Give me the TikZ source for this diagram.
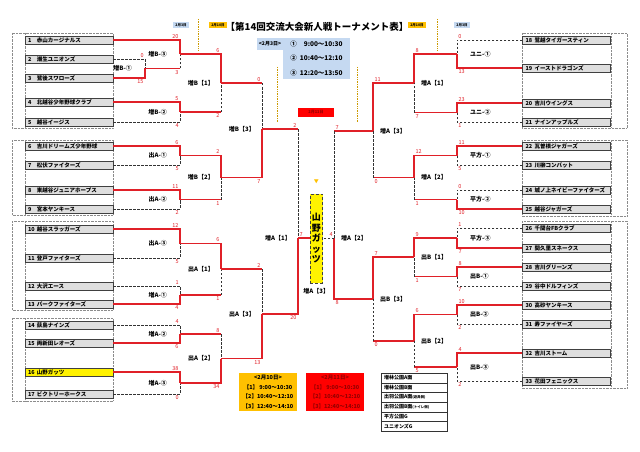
\documentclass[tikz,border=0pt]{standalone}
\usepackage{fontspec}
\setmainfont{Noto Sans CJK JP}
\usepackage{tikz}
\usetikzlibrary{positioning}
\definecolor{tred}{RGB}{224,32,40}
\definecolor{tgold}{RGB}{255,192,0}
\definecolor{tblue}{RGB}{197,217,241}
\definecolor{tdark}{RGB}{150,0,0}

\begin{document}
\begin{tikzpicture}[x=1pt, y=-1pt,
  team/.style={rectangle, draw=black!75, fill=black!13, minimum height=8pt,
    text width=82pt, inner xsep=3pt, inner ysep=0pt, align=left,
    font=\fontsize{5.5}{6}\selectfont\bfseries},
  grp/.style={draw=black!45, densely dotted},
  win/.style={draw=tred, line width=1.2pt},
  lose/.style={draw=black!80, dash pattern=on 2.5pt off 1.5pt, line width=0.8pt},
  sc/.style={font=\fontsize{5.5}{5.5}\selectfont, text=tred, inner sep=1pt},
  lbl/.style={font=\fontsize{6}{6.5}\selectfont\bfseries, inner sep=1pt},
  tag/.style={font=\fontsize{3.5}{4}\selectfont\bfseries, inner xsep=2pt, inner ysep=1.2pt},
  odot/.style={draw=tgold!80!black, densely dotted, line width=0.7pt},
  champ/.style={rectangle, draw=black!75, densely dashed, fill=yellow,
    minimum width=12.7pt, minimum height=88.4pt, inner sep=0pt, align=center,
    font=\fontsize{9}{10.5}\selectfont\bfseries},
  legend/.style={rectangle, minimum width=58pt, minimum height=38pt, inner sep=1pt,
    align=center, font=\fontsize{5.5}{9.5}\selectfont\bfseries},
  venue/.style={rectangle, draw=black!80, minimum width=66pt, minimum height=9.67pt,
    text width=60pt, inner xsep=3pt, inner ysep=0pt, align=left,
    font=\fontsize{5}{5.5}\selectfont\bfseries}
]
\useasboundingbox (0,0) rectangle (640,452);

\node[font=\fontsize{9.5}{10}\selectfont\bfseries] (title) at (317,27) {【第14回交流大会新人戦トーナメント表】};
\node[tag, fill=tblue] (dL3) at (181,25) {2月3日};
\node[tag, fill=tgold] (dL10) at (218,25) {2月10日};
\node[tag, fill=tgold] (dR10) at (417,25) {2月10日};
\node[tag, fill=tblue] (dR3) at (462,25) {2月3日};
\draw[odot] (198,19) -- (198,50);
\draw[odot] (437,19) -- (437,50);
\draw[odot] (277,67) -- (277,122);
\draw[odot] (357,67) -- (357,122);

\node[rectangle, fill=tblue, minimum width=67pt, minimum height=41pt, inner sep=2pt, align=left,
  font=\fontsize{6.5}{14.5}\selectfont\bfseries] (times) at (316.5,58.5)
  {①\ \ \phantom{1}9:00～10:30\\②\ \ 10:40～12:10\\③\ \ 12:20～13:50};
\node[rectangle, fill=tblue, anchor=north east, minimum height=12pt, inner sep=1.5pt,
  font=\fontsize{5}{5}\selectfont\bfseries] (d3) at (times.north west) {<2月3日>};

\foreach \ya/\yb in {33/128, 140/215, 221/310, 318/401} {
  \draw[grp] (12,\ya) rectangle (113,\yb);
  \draw[grp] (25,\ya) -- (25,\yb);
}
\foreach \ya/\yb in {33/128, 140/216, 221/388} {
  \draw[grp] (522,\ya) rectangle (627,\yb);
  \draw[grp] (611,\ya) -- (611,\yb);
}

\foreach \tno/\tyy/\tnm in {1/40/赤山カージナルス, 2/59/潮生ユニオンズ, 3/78/鷺後スワローズ,
    4/102/北越谷少年野球クラブ, 5/122/越谷イージス, 6/146/吉川ドリームズ少年野球,
    7/165/松伏ファイターズ, 8/190/東越谷ジュニアホープス, 9/209/宮本ヤンキース,
    10/229/越谷スラッガーズ, 11/258/登戸ファイターズ, 12/286/大沢エース,
    13/304/パークファイターズ, 14/325/荻島ナインズ, 15/343/両新田レオーズ,
    17/394/ビクトリーホークス}
  \node[team] (t\tno) at (69,\tyy) {\makebox[9pt][l]{\tno}\tnm};
\node[team, fill=yellow] (t16) at (69,372) {\makebox[9pt][l]{16}山野ガッツ};
\foreach \tno/\tyy/\tnm in {18/40/鷺越タイガースティン, 19/68/イーストドラゴンズ,
    20/103/吉川ウイングス, 21/122/ナインアップルズ, 22/146/瓦曽根ジャガーズ,
    23/165/川柳コンバット, 24/190/城ノ上ネイビーファイターズ, 25/209/越谷ジャガーズ,
    26/228/千間台FBクラブ, 27/248/間久里スネークス, 28/267/吉川グリーンズ,
    29/286/谷中ドルフィンズ, 30/305/高砂ヤンキース, 31/324/寿ファイヤーズ,
    32/353/吉川ストーム, 33/381/花田フェニックス}
  \node[team] (t\tno) at (566.5,\tyy) {\makebox[9pt][l]{\tno}\tnm};

\coordinate (jB1) at (145,68.5);
\coordinate (jB3) at (180,54);
\coordinate (jB2) at (180,112);
\coordinate (jBK1) at (221,83);
\coordinate (jA1o) at (180,155.5);
\coordinate (jA2o) at (180,199.5);
\coordinate (jBK2) at (221,177.5);
\coordinate (jBK3) at (262,129);
\coordinate (jA3o) at (180,243.5);
\coordinate (jA1z) at (180,295);
\coordinate (jAK1o) at (221,269);
\coordinate (jA2z) at (180,334);
\coordinate (jA3z) at (180,383);
\coordinate (jAK2o) at (221,358.5);
\coordinate (jAK3o) at (262,314);
\coordinate (jAK1z) at (298,238);
\coordinate (jU1) at (457,54);
\coordinate (jU2) at (457,112.5);
\coordinate (jAK1r) at (414,83);
\coordinate (jH1) at (457,155.5);
\coordinate (jH2) at (457,199.5);
\coordinate (jAK2r) at (414,177.5);
\coordinate (jAK3r) at (373,131);
\coordinate (jH3) at (457,238);
\coordinate (jB1r) at (457,276.5);
\coordinate (jBK1r) at (414,257);
\coordinate (jB2r) at (457,314.5);
\coordinate (jB3r) at (457,367);
\coordinate (jBK2r) at (414,341);
\coordinate (jBK3r) at (373,299);
\coordinate (jAK2z) at (334,238);

\draw[lose] (t2.east) -| node[sc, above left] (s2) {0} (jB1);
\draw[win] (t3.east) -| node[sc, below left] (s3) {15} (jB1);
\node[lbl, left=12pt of jB1] (lB1) {増B-①};
\draw[win] (t1.east) -| node[sc, above left] (s1) {20} (jB3);
\draw[win] (jB1) -- (jB1 -| jB3) node[sc, below left] (sB1) {3};
\draw[lose] (jB1 -| jB3) -- (jB3);
\node[lbl, left=12pt of jB3] (lB3) {増B-③};
\draw[win] (t4.east) -| node[sc, above left] (s4) {5} (jB2);
\draw[lose] (t5.east) -| node[sc, below left] (s5) {4} (jB2);
\node[lbl, left=12pt of jB2] (lB2) {増B-②};
\draw[win] (jB2) -- (jB2 -| jBK1) node[sc, below left] (sB2) {2};
\draw[lose] (jB2 -| jBK1) -- (jBK1);
\draw[win] (jB3) -| node[sc, above left] (sB3) {6} (jBK1);
\node[lbl, left=6pt of jBK1] (lBK1) {増B【1】};

\draw[win] (t6.east) -| node[sc, above left] (s6) {6} (jA1o);
\draw[lose] (t7.east) -| node[sc, below left] (s7) {5} (jA1o);
\node[lbl, left=12pt of jA1o] (lA1o) {出A-①};
\draw[win] (t8.east) -| node[sc, above left] (s8) {11} (jA2o);
\draw[lose] (t9.east) -| node[sc, below left] (s9) {2} (jA2o);
\node[lbl, left=12pt of jA2o] (lA2o) {出A-②};
\draw[win] (jA2o) -- (jA2o -| jBK2) node[sc, below left] (sA2o) {1};
\draw[lose] (jA2o -| jBK2) -- (jBK2);
\draw[win] (jA1o) -| node[sc, above left] (sA1o) {2} (jBK2);
\node[lbl, left=6pt of jBK2] (lBK2) {増B【2】};
\draw[win] (jBK1) -- (jBK1 -| jBK3) node[sc, above left] (sBK1) {0};
\draw[lose] (jBK1 -| jBK3) -- (jBK3);
\draw[win] (jBK2) -| node[sc, below left] (sBK2) {7} (jBK3);
\node[lbl, left=6pt of jBK3] (lBK3) {増B【3】};

\draw[win] (t10.east) -| node[sc, above left] (s10) {12} (jA3o);
\draw[lose] (t11.east) -| node[sc, below left] (s11) {5} (jA3o);
\node[lbl, left=12pt of jA3o] (lA3o) {出A-③};
\draw[lose] (t12.east) -| node[sc, above left] (s12) {1} (jA1z);
\draw[win] (t13.east) -| node[sc, below left] (s13) {4} (jA1z);
\node[lbl, left=12pt of jA1z] (lA1z) {増A-①};
\draw[win] (jA1z) -- (jA1z -| jAK1o) node[sc, below left] (sA1z) {1};
\draw[lose] (jA1z -| jAK1o) -- (jAK1o);
\draw[win] (jA3o) -| node[sc, above left] (sA3o) {6} (jAK1o);
\node[lbl, left=6pt of jAK1o] (lAK1o) {出A【1】};
\draw[lose] (t14.east) -| node[sc, above left] (s14) {4} (jA2z);
\draw[win] (t15.east) -| node[sc, below left] (s15) {6} (jA2z);
\node[lbl, left=12pt of jA2z] (lA2z) {増A-②};
\draw[lose] (t17.east) -| node[sc, below left] (s17) {0} (jA3z);
\draw[win] (t16.east) -| node[sc, above left] (s16) {38} (jA3z);
\node[lbl, left=12pt of jA3z] (lA3z) {増A-③};
\draw[win] (jA2z) -- (jA2z -| jAK2o) node[sc, above left] (sA2z) {8};
\draw[lose] (jA2z -| jAK2o) -- (jAK2o);
\draw[win] (jA3z) -| node[sc, below left] (sA3z) {34} (jAK2o);
\node[lbl, left=6pt of jAK2o] (lAK2o) {出A【2】};
\draw[win] (jAK1o) -- (jAK1o -| jAK3o) node[sc, above left] (sAK1o) {2};
\draw[lose] (jAK1o -| jAK3o) -- (jAK3o);
\draw[win] (jAK2o) -| node[sc, below left] (sAK2o) {13} (jAK3o);
\node[lbl, left=6pt of jAK3o] (lAK3o) {出A【3】};
\draw[win] (jBK3) -- (jBK3 -| jAK1z) node[sc, above left] (sBK3) {2};
\draw[lose] (jBK3 -| jAK1z) -- (jAK1z);
\draw[win] (jAK3o) -| node[sc, below left] (sAK3o) {20} (jAK1z);
\node[lbl, left=6pt of jAK1z] (lAK1z) {増A【1】};

\draw[lose] (t18.west) -| node[sc, above right] (s18) {0} (jU1);
\draw[win] (t19.west) -| node[sc, below right] (s19) {13} (jU1);
\node[lbl, right=12pt of jU1] (lU1) {ユニ-①};
\draw[win] (t20.west) -| node[sc, above right] (s20) {23} (jU2);
\draw[lose] (t21.west) -| node[sc, below right] (s21) {1} (jU2);
\node[lbl, right=12pt of jU2] (lU2) {ユニ-②};
\draw[win] (jU2) -- (jU2 -| jAK1r) node[sc, below right] (sU2) {7};
\draw[lose] (jU2 -| jAK1r) -- (jAK1r);
\draw[win] (jU1) -| node[sc, above right] (sU1) {8} (jAK1r);
\node[lbl, right=6pt of jAK1r] (lAK1r) {増A【1】};
\draw[win] (t22.west) -| node[sc, above right] (s22) {11} (jH1);
\draw[lose] (t23.west) -| node[sc, below right] (s23) {5} (jH1);
\node[lbl, right=12pt of jH1] (lH1) {平方-①};
\draw[lose] (t24.west) -| node[sc, above right] (s24) {0} (jH2);
\draw[win] (t25.west) -| node[sc, below right] (s25) {10} (jH2);
\node[lbl, right=12pt of jH2] (lH2) {平方-②};
\draw[win] (jH2) -- (jH2 -| jAK2r) node[sc, below right] (sH2) {1};
\draw[lose] (jH2 -| jAK2r) -- (jAK2r);
\draw[win] (jH1) -| node[sc, above right] (sH1) {12} (jAK2r);
\node[lbl, right=6pt of jAK2r] (lAK2r) {増A【2】};
\draw[win] (jAK2r) -- (jAK2r -| jAK3r) node[sc, below right] (sAK2r) {0};
\draw[lose] (jAK2r -| jAK3r) -- (jAK3r);
\draw[win] (jAK1r) -| node[sc, above right] (sAK1r) {11} (jAK3r);
\node[lbl, right=6pt of jAK3r] (lAK3r) {増A【3】};

\draw[lose] (t26.west) -| node[sc, above right] (s26) {1} (jH3);
\draw[win] (t27.west) -| node[sc, below right] (s27) {7} (jH3);
\node[lbl, right=12pt of jH3] (lH3) {平方-③};
\draw[win] (t28.west) -| node[sc, above right] (s28) {8} (jB1r);
\draw[lose] (t29.west) -| node[sc, below right] (s29) {7} (jB1r);
\node[lbl, right=12pt of jB1r] (lB1r) {出B-①};
\draw[win] (jB1r) -- (jB1r -| jBK1r) node[sc, below right] (sB1r) {1};
\draw[lose] (jB1r -| jBK1r) -- (jBK1r);
\draw[win] (jH3) -| node[sc, above right] (sH3) {9} (jBK1r);
\node[lbl, right=6pt of jBK1r] (lBK1r) {出B【1】};
\draw[win] (t30.west) -| node[sc, above right] (s30) {10} (jB2r);
\draw[lose] (t31.west) -| node[sc, below right] (s31) {2} (jB2r);
\node[lbl, right=12pt of jB2r] (lB2r) {出B-②};
\draw[lose] (t33.west) -| node[sc, below right] (s33) {2} (jB3r);
\draw[win] (t32.west) -| node[sc, above right] (s32) {4} (jB3r);
\node[lbl, right=12pt of jB3r] (lB3r) {出B-③};
\draw[win] (jB3r) -- (jB3r -| jBK2r) node[sc, below right] (sB3r) {5};
\draw[lose] (jB3r -| jBK2r) -- (jBK2r);
\draw[win] (jB2r) -| node[sc, above right] (sB2r) {6} (jBK2r);
\node[lbl, right=6pt of jBK2r] (lBK2r) {出B【2】};
\draw[win] (jBK2r) -- (jBK2r -| jBK3r) node[sc, below right] (sBK2r) {0};
\draw[lose] (jBK2r -| jBK3r) -- (jBK3r);
\draw[win] (jBK1r) -| node[sc, above right] (sBK1r) {7} (jBK3r);
\node[lbl, right=6pt of jBK3r] (lBK3r) {出B【3】};
\draw[win] (jAK3r) -- (jAK3r -| jAK2z) node[sc, above right] (sAK3r) {7};
\draw[lose] (jAK3r -| jAK2z) -- (jAK2z);
\draw[win] (jBK3r) -| node[sc, below right] (sBK3r) {8} (jAK2z);
\node[lbl, right=6pt of jAK2z] (lAK2z) {増A【2】};

\node[champ] (yama) at (316.3,238.5) {山\\野\\ガ\\ッ\\ツ};
\draw[win] (jAK1z) node[sc, above right] (fL) {7} -- (jAK1z -| yama.west);
\draw[lose] (jAK2z) node[sc, above left] (fR) {4} -- (jAK2z -| yama.east);
\node[lbl, below=4pt of yama] (lFin) {増A【3】};
\node[text=tgold, font=\fontsize{5}{5}\selectfont, inner sep=0pt] (mark) at (316.3,182) {▼};
\node[tag, fill=red, text=tdark, minimum width=36pt, minimum height=9pt,
  font=\fontsize{4}{4}\selectfont\bfseries] (d11) at (316,112.5) {2月11日};

\node[legend, fill=tgold] (leg10) at (268,392)
  {<2月10日>\\【1】\ 9:00～10:30\\【2】10:40～12:10\\【3】12:40～14:10};
\node[legend, fill=red, text=tdark] (leg11) at (335,392)
  {<2月11日>\\【1】\ 9:00～10:30\\【2】10:40～12:10\\【3】12:40～14:10};

\foreach \i/\vn in {1/増林公園A面, 2/増林公園B面,
    3/出羽公園A面{\fontsize{3.5}{4}\selectfont(遊具側)},
    4/出羽公園B面{\fontsize{3.5}{4}\selectfont(トイレ側)}, 5/平方公園G, 6/ユニオンズG}
  \node[venue] (v\i) at (414,{368.2+9.67*\i}) {\vn};
\end{tikzpicture}
\end{document}
